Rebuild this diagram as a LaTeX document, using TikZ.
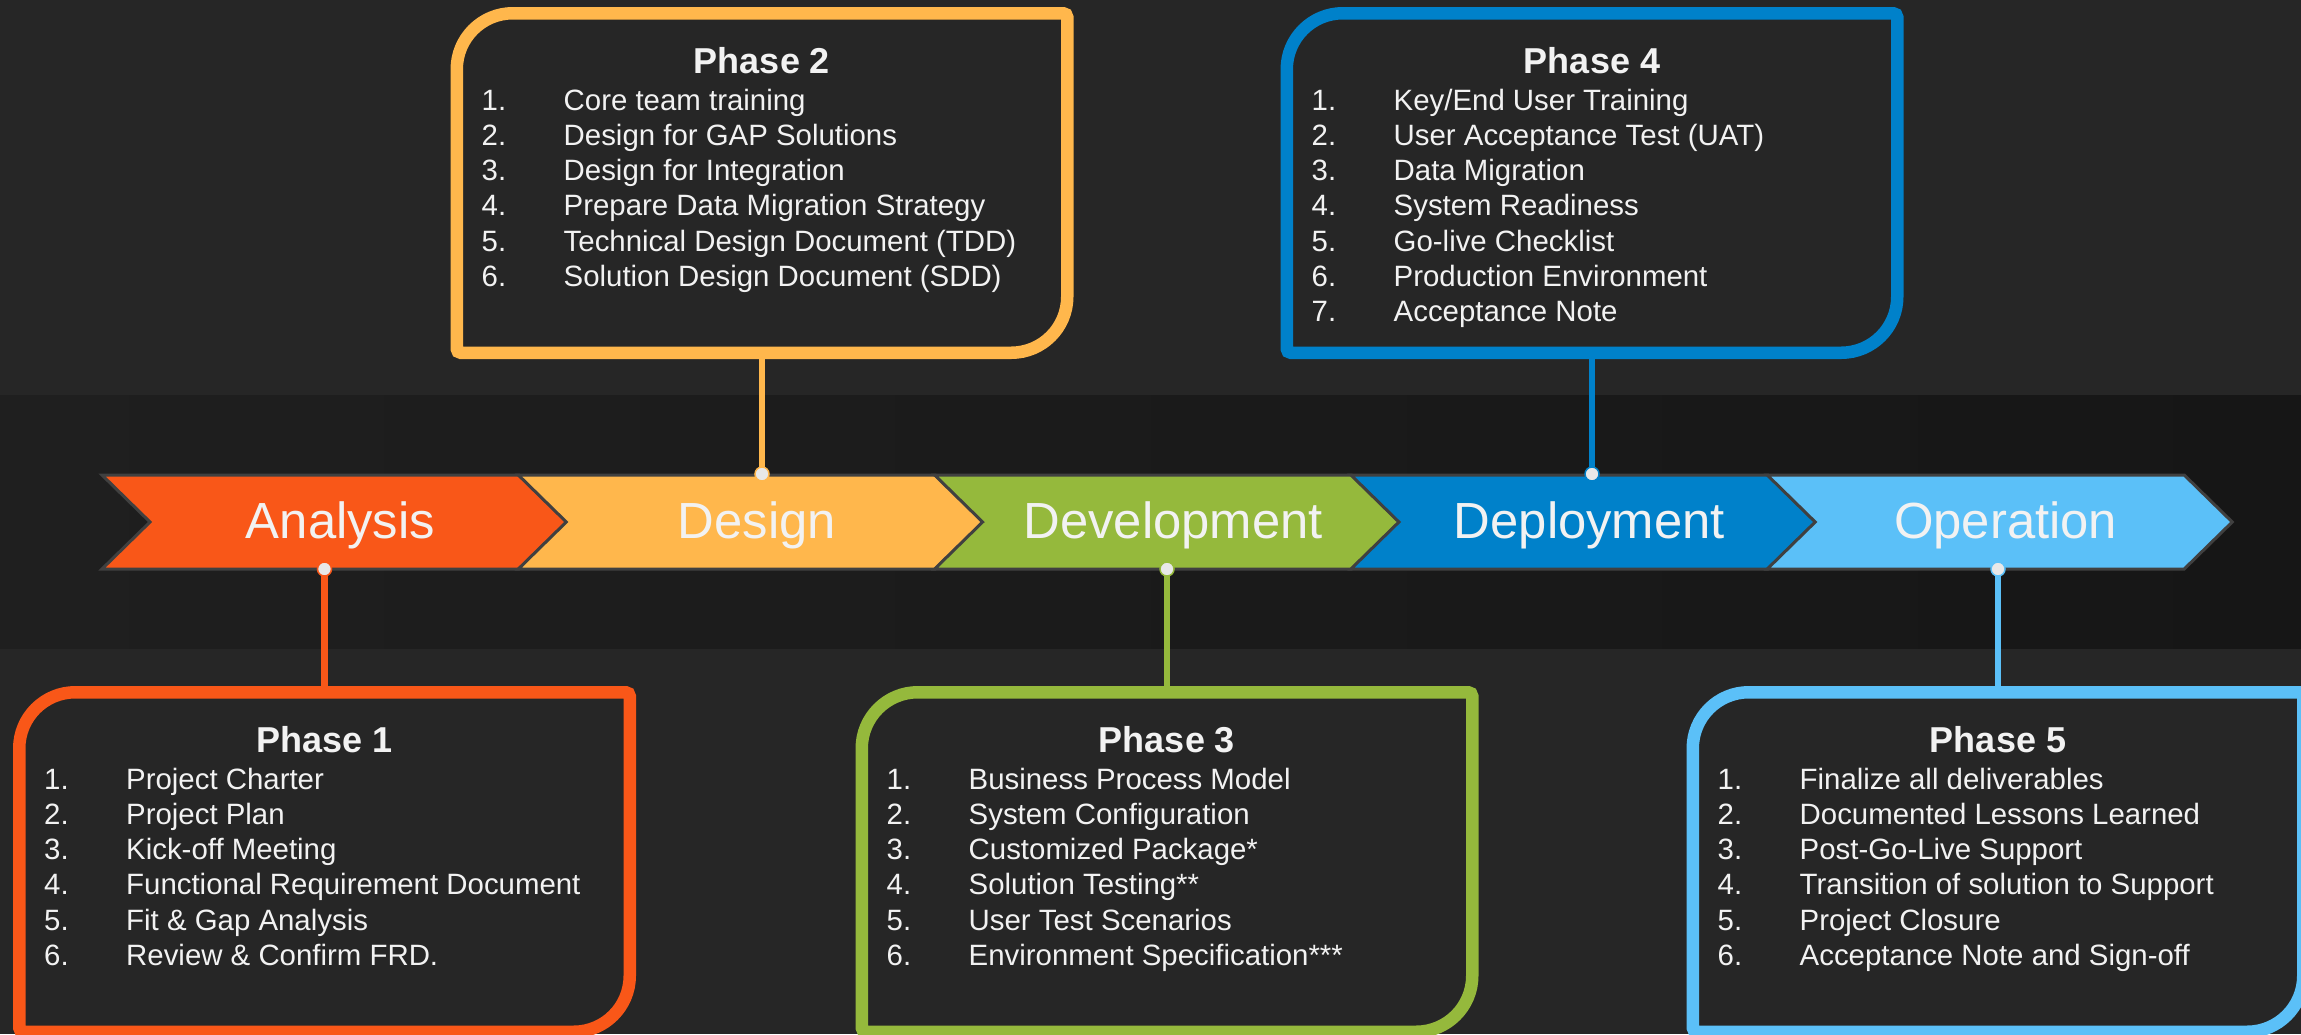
\documentclass[tikz,border=0pt]{standalone}
\usepackage{fontspec}
\setmainfont{Liberation Sans}
\definecolor{bgA}{HTML}{262626}
\definecolor{bandL}{HTML}{1F1F1F}
\definecolor{bandR}{HTML}{161616}
\definecolor{cA}{HTML}{F95718}
\definecolor{cB}{HTML}{FFB74C}
\definecolor{cC}{HTML}{95B93C}
\definecolor{cD}{HTML}{0081CA}
\definecolor{cE}{HTML}{5BC0F8}
\definecolor{txt}{HTML}{F2F2F2}
\definecolor{edgegray}{HTML}{404040}
\definecolor{dotfill}{HTML}{E8E8E8}

\tikzset{
  chevlabel/.style={inner sep=0pt, anchor=base, text=txt, font=\fontsize{50.8}{60}\selectfont},
  ptitle/.style={inner sep=0pt, anchor=base, text=txt, font=\fontsize{36}{42}\selectfont\bfseries},
  pitem/.style={inner sep=0pt, anchor=base west, text=txt, font=\fontsize{29.4}{35}\selectfont},
  dotnode/.style={circle, inner sep=0pt, minimum size=14pt, fill=dotfill, draw=#1, line width=1.5pt},
  conn/.style={draw=#1, line width=6.5pt},
  chevshape/.style={fill=#1, draw=edgegray, line width=3pt, line join=miter},
  boxline/.style={draw=#1, fill=bgA, line width=12.5pt},
}

% chevron: #1 left x, #2 colour
\newcommand\mychev[2]{%
  \path[chevshape=#2] (#1,475) -- (#1+417,475) -- (#1+465,522) -- (#1+417,569) -- (#1,569) -- (#1+48,522) -- cycle;
}
% phase box: #1 centre x, #2 top outer y, #3 colour
\newcommand\mybox[3]{%
  \path[boxline=#3] (#1-305.25,#2+62.25) arc[start angle=180,end angle=270,radius=56]
    -- (#1+301.25,#2+6.25) arc[start angle=270,end angle=360,radius=4]
    -- (#1+305.25,#2+289.75) arc[start angle=0,end angle=90,radius=56]
    -- (#1-301.25,#2+345.75) arc[start angle=90,end angle=180,radius=4]
    -- cycle;
}
% items: #1 name prefix, #2 centre x, #3 top outer y, #4 list
\newcommand\myitems[4]{%
  \foreach \txtitem [count=\k] in {#4} {
    \node[pitem] (#1n\k) at (#2-280.5,#3+103+35.3*\k-35.3) {\k.};
    \node[pitem] (#1i\k) at (#2-198.5,#3+103+35.3*\k-35.3) {\txtitem};
  }
}

\begin{document}
\begin{tikzpicture}[x=1pt,y=-1pt]
\useasboundingbox (0,0) rectangle (2301,1034);
% background
\fill[bgA] (0,0) rectangle (2301,1034);
\shade[left color=bandL, right color=bandR] (0,395) rectangle (2301,648);

% anchor coordinates for dots and box joints
\coordinate (kA) at (324.5,569);
\coordinate (kB) at (762,474);
\coordinate (kC) at (1167,569);
\coordinate (kD) at (1592,474);
\coordinate (kE) at (1998,569);
\coordinate (jA) at (324.5,690);
\coordinate (jB) at (762,355);
\coordinate (jC) at (1167,690);
\coordinate (jD) at (1592,355);
\coordinate (jE) at (1998,690);

% connectors
\draw[conn=cA] (kA) -- (jA);
\draw[conn=cB] (kB) -- (jB);
\draw[conn=cC] (kC) -- (jC);
\draw[conn=cD] (kD) -- (jD);
\draw[conn=cE] (kE) -- (jE);

% boxes
\mybox{324.5}{686}{cA}
\mybox{762}{7}{cB}
\mybox{1167}{686}{cC}
\mybox{1592}{7}{cD}
\mybox{1998}{686}{cE}

% titles
\node[ptitle] (tA) at (324.5,752) {Phase 1};
\node[ptitle] (tB) at (762,73) {Phase 2};
\node[ptitle] (tC) at (1167,752) {Phase 3};
\node[ptitle] (tD) at (1592,73) {Phase 4};
\node[ptitle] (tE) at (1998,752) {Phase 5};

\myitems{pA}{324.5}{686}{{Project Charter},{Project Plan},{Kick-off Meeting},{Functional Requirement Document},{Fit \& Gap Analysis},{Review \& Confirm FRD.}}
\myitems{pB}{762}{7}{{Core team training},{Design for GAP Solutions},{Design for Integration},{Prepare Data Migration Strategy},{Technical Design Document (TDD)},{Solution Design Document (SDD)}}
\myitems{pC}{1167}{686}{{Business Process Model},{System Configuration},{Customized Package*},{Solution Testing**},{User Test Scenarios},{Environment Specification***}}
\myitems{pD}{1592}{7}{{Key/End User Training},{User Acceptance Test (UAT)},{Data Migration},{System Readiness},{Go-live Checklist},{Production Environment},{Acceptance Note}}
\myitems{pE}{1998}{686}{{Finalize all deliverables},{Documented Lessons Learned},{Post-Go-Live Support},{Transition of solution to Support},{Project Closure},{Acceptance Note and Sign-off}}

% chevrons
\mychev{102}{cA}
\mychev{518.3}{cB}
\mychev{934.6}{cC}
\mychev{1350.9}{cD}
\mychev{1767.2}{cE}

\node[chevlabel] (lA) at (340.5,538) {Analysis};
\node[chevlabel] (lB) at (756.8,538) {Design};
\node[chevlabel] (lC) at (1173.1,538) {Development};
\node[chevlabel] (lD) at (1589.4,538) {Deployment};
\node[chevlabel] (lE) at (2005.7,538) {Operation};

% dots
\node[dotnode=cA] (dA) at (kA) {};
\node[dotnode=cB] (dB) at (kB) {};
\node[dotnode=cC] (dC) at (kC) {};
\node[dotnode=cD] (dD) at (kD) {};
\node[dotnode=cE] (dE) at (kE) {};
\end{tikzpicture}
\end{document}
